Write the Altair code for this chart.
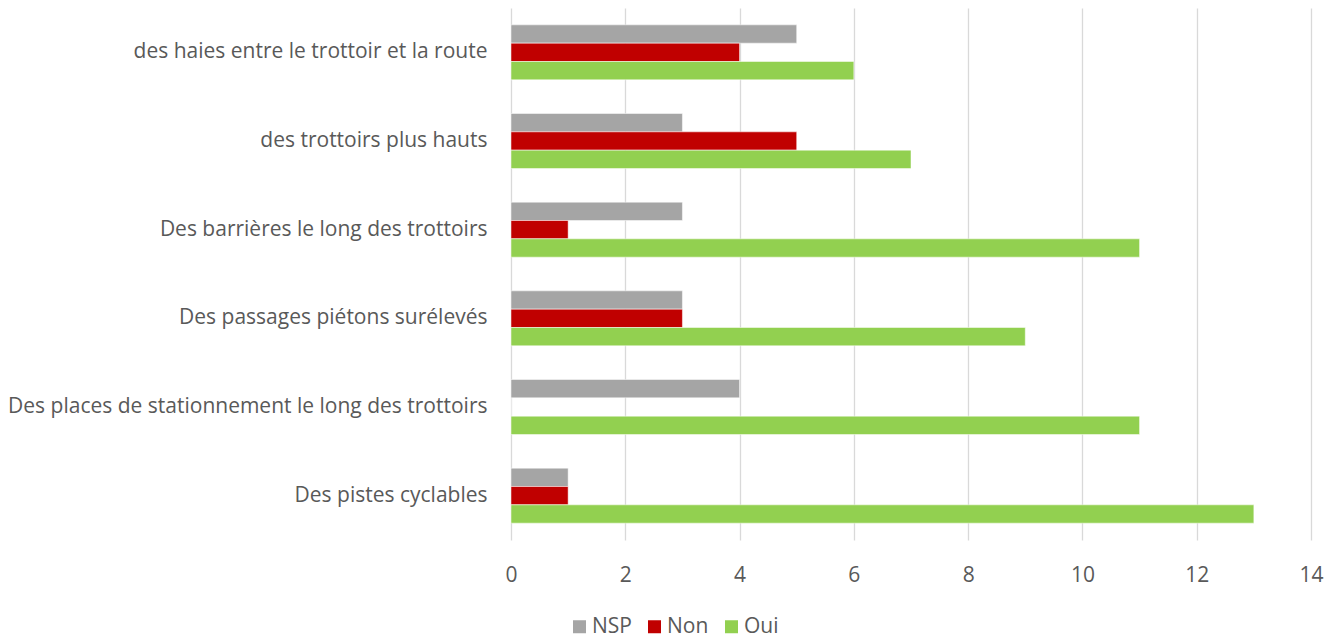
import altair as alt
import pandas as pd

categories = [
    "des haies entre le trottoir et la route",
    "des trottoirs plus hauts",
    "Des barrières le long des trottoirs",
    "Des passages piétons surélevés",
    "Des places de stationnement le long des trottoirs",
    "Des pistes cyclables",
]
series = ["NSP", "Non", "Oui"]
nsp = [5, 3, 3, 3, 4, 1]
non = [4, 5, 1, 3, 0, 1]
oui = [6, 7, 11, 9, 11, 13]
colors = ["#A5A5A5", "#C00000", "#92D050"]

rows = []
for i, c in enumerate(categories):
    for s, vals in zip(series, [nsp, non, oui]):
        rows.append({"cat": c, "serie": s, "val": vals[i]})
df = pd.DataFrame(rows)

FONT = "Open Sans"
FS = 21

chart = alt.Chart(df).mark_bar(stroke="white", strokeWidth=0.5).encode(
    y=alt.Y("cat:N", sort=categories, title=None,
            scale=alt.Scale(paddingInner=0.38, paddingOuter=0.19),
            axis=alt.Axis(labelFontSize=FS, labelColor="#595959", labelFont=FONT,
                          labelPadding=24, ticks=False, domain=False, labelLimit=600)),
    x=alt.X("val:Q", title=None,
            scale=alt.Scale(domain=[0, 14], nice=False),
            axis=alt.Axis(values=list(range(0, 15, 2)), labelFontSize=FS, labelColor="#595959",
                          labelFont=FONT, labelPadding=24, labelFlush=False, ticks=False,
                          domain=False, gridColor="#D9D9D9", gridWidth=1.3)),
    yOffset=alt.YOffset("serie:N", sort=series, scale=alt.Scale(paddingInner=0, paddingOuter=0)),
    color=alt.Color("serie:N", sort=series,
                    scale=alt.Scale(domain=series, range=colors),
                    legend=alt.Legend(title=None, orient="none", direction="horizontal",
                                      legendX=58, legendY=608, symbolType="square",
                                      symbolSize=169, symbolStrokeWidth=0,
                                      labelFontSize=FS, labelColor="#595959", labelFont=FONT,
                                      columnPadding=12, labelOffset=2)),
).properties(
    width=800, height=532,
    autosize=alt.AutoSizeParams(type="none"),
    padding={"left": 503, "top": 0, "right": 17, "bottom": 99},
).configure_view(stroke=None)

chart.save("out.html", embed_options={"renderer": "svg", "actions": False})
